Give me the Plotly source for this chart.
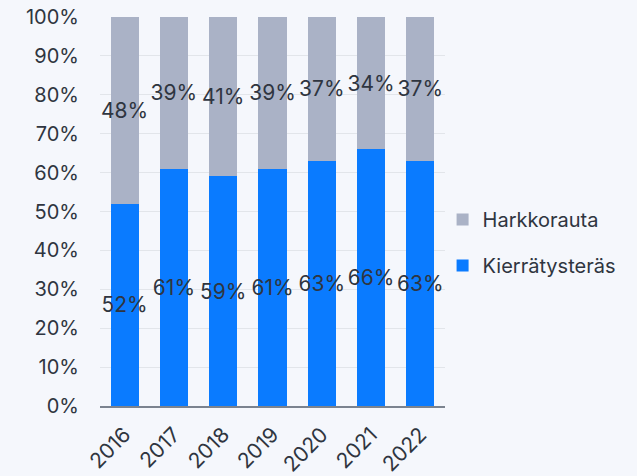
import plotly.graph_objects as go

years = ["2016", "2017", "2018", "2019", "2020", "2021", "2022"]
kierratysteras = [52, 61, 59, 61, 63, 66, 63]
harkkorauta = [48, 39, 41, 39, 37, 34, 37]

BG = "#f5f7fc"
FONT = "Inter, Open Sans, sans-serif"
TXT = "#2f3540"

fig = go.Figure()
fig.add_trace(go.Bar(
    x=years, y=kierratysteras, name="Kierrätysteräs",
    marker=dict(color="#0a7bff", line=dict(width=0)),
    text=[f"{v}%" for v in kierratysteras], textposition="inside",
    insidetextanchor="middle", constraintext="none", textangle=0,
    textfont=dict(size=21, color=TXT, family=FONT),
    legendgroup="a", legendrank=2,
))
fig.add_trace(go.Bar(
    x=years, y=harkkorauta, name="Harkkorauta",
    marker=dict(color="#aab2c6", line=dict(width=0)),
    text=[f"{v}%" for v in harkkorauta], textposition="inside",
    insidetextanchor="middle", constraintext="none", textangle=0,
    textfont=dict(size=21, color=TXT, family=FONT),
    legendgroup="b", legendrank=1,
))

fig.update_layout(
    barmode="stack",
    bargap=0.43,
    width=637, height=476,
    paper_bgcolor=BG, plot_bgcolor=BG,
    font=dict(family=FONT, size=20, color=TXT),
    margin=dict(l=100, r=192, t=17, b=70, autoexpand=False),
    showlegend=True,
    legend=dict(x=0.993, y=0.42, xanchor="left", yanchor="middle",
                traceorder="grouped", tracegroupgap=17,
                font=dict(size=20, color=TXT, family=FONT),
                bgcolor="rgba(0,0,0,0)"),
    yaxis=dict(range=[0, 100], dtick=10, ticksuffix="%", automargin=False,
               gridcolor="#e2e5ea", gridwidth=1, zeroline=False,
               showline=False, ticks="", ticklabelstandoff=20,
               ticklabeloverflow="allow",
               tickfont=dict(size=20, color=TXT, family=FONT)),
    xaxis=dict(tickangle=-45, showline=True, linecolor="#7b838f", linewidth=2,
               automargin=False, ticklabeloverflow="allow",
               ticks="", ticklabelstandoff=6,
               tickfont=dict(size=21, color=TXT, family=FONT)),
)

fig.write_html(
    "out.html",
    config={"displayModeBar": False},
    post_script="document.body.style.margin='0';document.body.style.background='%s';" % BG,
)
